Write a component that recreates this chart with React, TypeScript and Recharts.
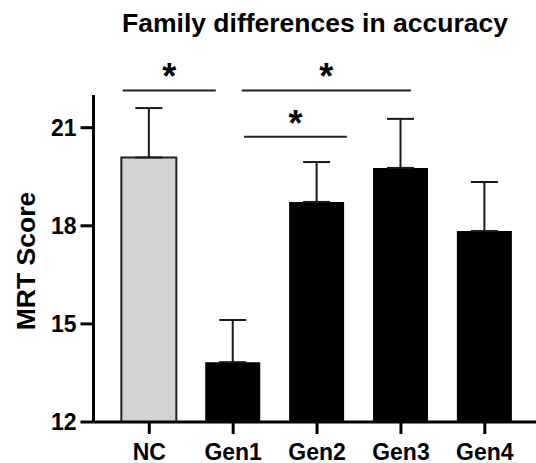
import React from 'react';
import { ComposedChart, Bar, XAxis, YAxis, ErrorBar, Cell, ReferenceLine } from 'recharts';

const categories = ['NC', 'Gen1', 'Gen2', 'Gen3', 'Gen4'];
const meanScores = [20.09, 13.83, 18.73, 19.77, 17.84];
const sdScores = [1.51, 1.29, 1.22, 1.5, 1.5];
const yTicks = [12, 15, 18, 21];
const controlGroup = 'NC';

// significance brackets (x in category-index units, y in score units)
const bracketFrom = [-0.316, 1.103, 1.13];
const bracketTo = [0.793, 3.118, 2.355];
const bracketY = [22.14, 22.14, 20.72];
const bracketLabel = ['*', '*', '*'];

const FONT = '"Liberation Sans", Arial, Helvetica, sans-serif';

const data = categories.map((name, i) => ({
  idx: i,
  name,
  mean: meanScores[i],
  err: [0, sdScores[i]],
}));

const StarLabel = (props: any) => {
  const vb = props.viewBox || {};
  const cx = (vb.x || 0) + (vb.width || 0) / 2;
  const y = vb.y || 0;
  return (
    <text
      x={cx}
      y={y - 1}
      textAnchor="middle"
      fontFamily={FONT}
      fontWeight="bold"
      fontSize={36}
      fill="#000"
    >
      {props.value}
    </text>
  );
};

export default function App() {
  return (
    <div style={{ position: 'absolute', left: 0, top: 0, width: 536, height: 463, background: '#fff' }}>
      <ComposedChart
        width={536}
        height={463}
        data={data}
        margin={{ top: 95, right: 0, bottom: 0, left: 0 }}
      >
        <XAxis
          type="number"
          dataKey="idx"
          domain={[-0.665, 4.61]}
          ticks={[0, 1, 2, 3, 4]}
          interval={0}
          allowDataOverflow
          tickFormatter={(v: number) => categories[v] ?? ''}
          height={41}
          tickSize={12}
          tickMargin={10}
          axisLine={{ stroke: '#000', strokeWidth: 3 }}
          tickLine={{ stroke: '#000', strokeWidth: 3 }}
          tick={{ fill: '#000', fontSize: 23, fontWeight: 'bold', fontFamily: FONT }}
        />
        <YAxis
          type="number"
          domain={[12, 22]}
          ticks={yTicks}
          interval={0}
          allowDataOverflow
          width={93.5}
          tickSize={13}
          tickMargin={4}
          axisLine={{ stroke: '#000', strokeWidth: 3 }}
          tickLine={{ stroke: '#000', strokeWidth: 3 }}
          tick={{ fill: '#000', fontSize: 23, fontWeight: 'bold', fontFamily: FONT }}
        />
        <Bar dataKey="mean" barSize={55} isAnimationActive={false}>
          {data.map((d) => (
            <Cell
              key={d.name}
              fill={d.name === controlGroup ? '#d3d3d3' : '#000'}
              stroke={d.name === controlGroup ? '#222' : '#000'}
              strokeWidth={d.name === controlGroup ? 2 : 0}
            />
          ))}
          <ErrorBar
            dataKey="err"
            direction="y"
            width={13.5}
            stroke="#1a1a1a"
            strokeWidth={2}
            isAnimationActive={false}
          />
        </Bar>
        {bracketFrom.map((f, i) => (
          <ReferenceLine
            key={'br' + i}
            segment={[
              { x: f, y: bracketY[i] },
              { x: bracketTo[i], y: bracketY[i] },
            ]}
            ifOverflow="visible"
            stroke="#222"
            strokeWidth={2}
            label={<StarLabel value={bracketLabel[i]} />}
          />
        ))}
      </ComposedChart>
      <svg
        width={536}
        height={463}
        style={{ position: 'absolute', left: 0, top: 0, pointerEvents: 'none' }}
      >
        <text
          x={315}
          y={32}
          textAnchor="middle"
          fontFamily={FONT}
          fontWeight="bold"
          fontSize={26.5}
          fill="#000"
        >
          Family differences in accuracy
        </text>
        <text
          x={35}
          y={261}
          transform="rotate(-90, 35, 261)"
          textAnchor="middle"
          fontFamily={FONT}
          fontWeight="bold"
          fontSize={26.5}
          fill="#000"
        >
          MRT Score
        </text>
      </svg>
    </div>
  );
}
